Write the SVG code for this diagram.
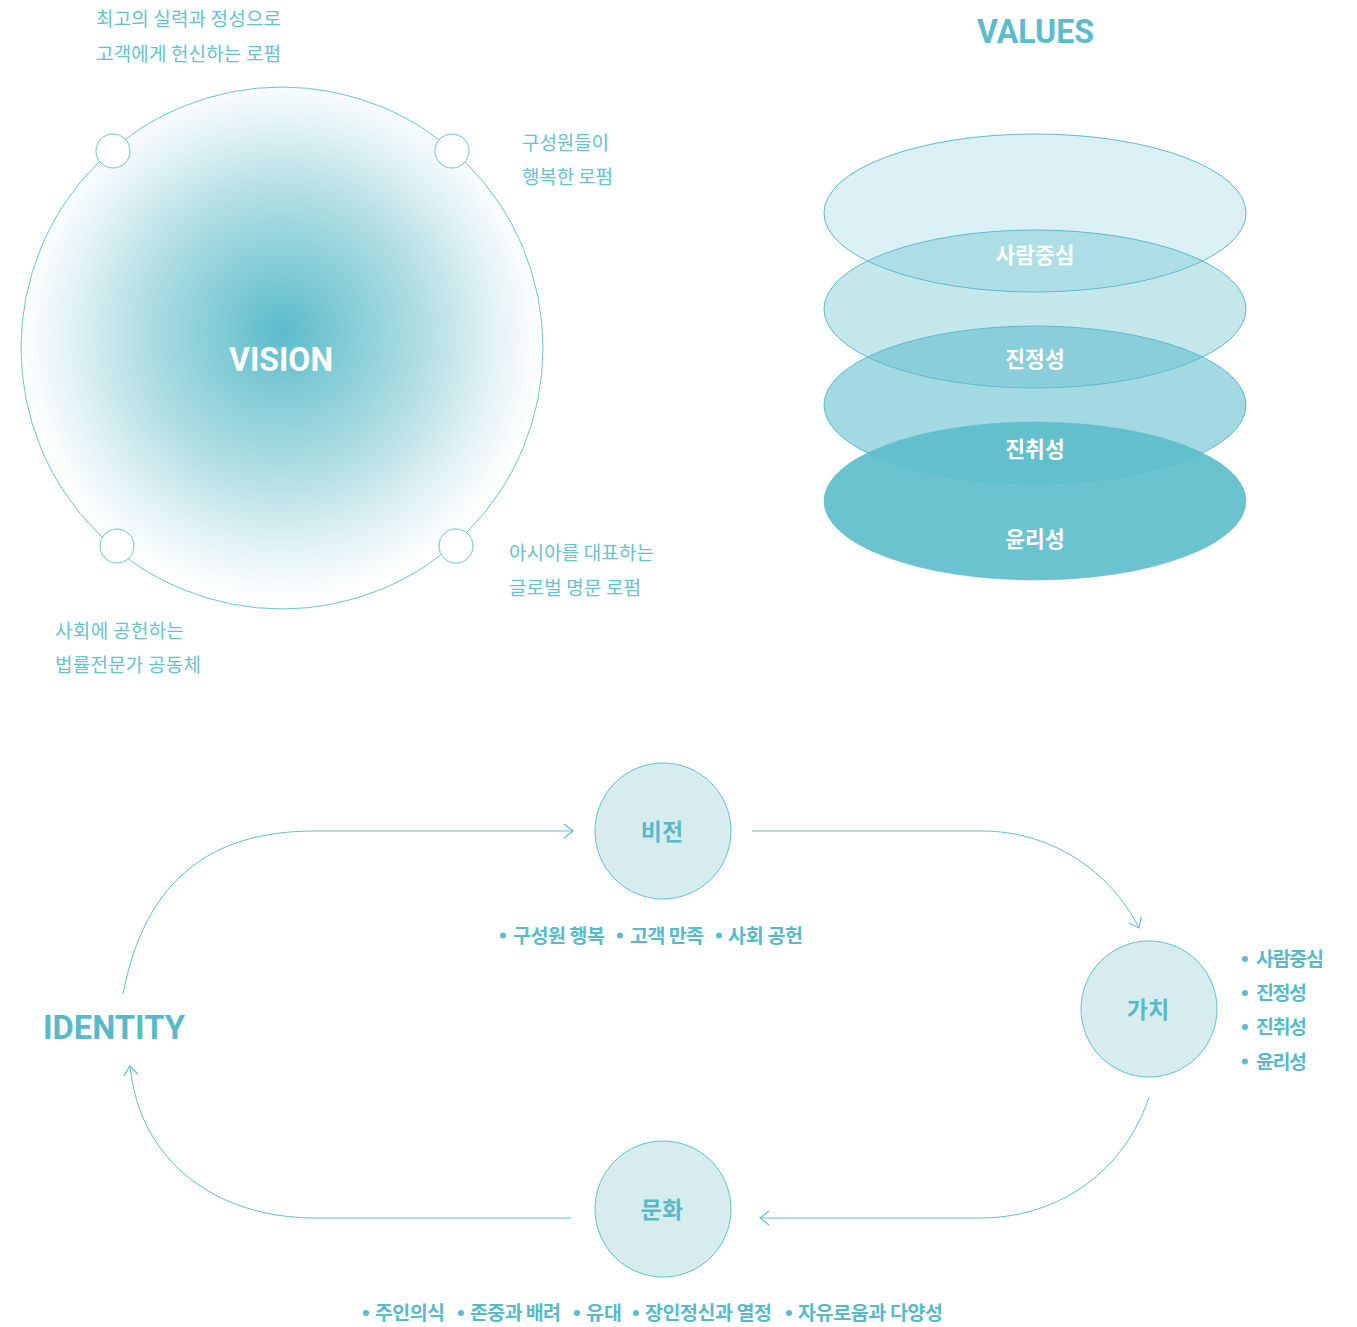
<svg xmlns="http://www.w3.org/2000/svg" width="1357" height="1327" viewBox="0 0 1357 1327">
<defs>
<radialGradient id="vg" gradientUnits="userSpaceOnUse" cx="282" cy="338" r="262" fx="282" fy="330">
<stop offset="0" stop-color="#5bbccb"/>
<stop offset="0.3" stop-color="#8bcfd8"/>
<stop offset="0.58" stop-color="#b9e1e7"/>
<stop offset="0.82" stop-color="#e4f3f5"/>
<stop offset="1" stop-color="#ffffff"/>
</radialGradient>
<marker id="chev" markerUnits="userSpaceOnUse" viewBox="-12 -10 14 20" refX="0" refY="0" markerWidth="14" markerHeight="20" orient="auto">
<path d="M-9,-7 L0,0 L-9,7" fill="none" stroke="#5fc0cd" stroke-width="1.2"/>
</marker>
<style>
.lbl{font-family:'Noto Sans CJK KR','Noto Sans',sans-serif;font-size:19px;fill:#66c2ce;font-weight:400}
.bul{font-family:'Noto Sans CJK KR','Noto Sans',sans-serif;font-size:19.5px;fill:#58bac9;font-weight:700}
.bd{fill:#5bbccb}
.node{fill:#d7ecef;stroke:#5fc0cd;stroke-width:1}
.ntx{font-family:'Noto Sans CJK KR','Noto Sans',sans-serif;font-size:23px;fill:#58bac9;font-weight:700;text-anchor:middle}
.ell{stroke:#5bbccb;stroke-width:1}
.etx{font-family:'Noto Sans CJK KR','Noto Sans',sans-serif;font-size:21.5px;fill:#ffffff;font-weight:700;text-anchor:middle}
.con{fill:none;stroke:#5fc0cd;stroke-width:1}
.dot{fill:#ffffff;stroke:#6cc4d0;stroke-width:1}
</style>
</defs>
<rect width="1357" height="1327" fill="#ffffff"/>

<g id="vision">
<circle cx="282" cy="348" r="261" fill="url(#vg)" stroke="#6cc4d0" stroke-width="1"/>
<circle class="dot" cx="113" cy="151" r="17"/>
<circle class="dot" cx="452" cy="151" r="17"/>
<circle class="dot" cx="117" cy="546" r="17"/>
<circle class="dot" cx="456" cy="546" r="17"/>
<text x="229" y="371" font-family="Roboto,'Liberation Sans',sans-serif" font-weight="700" font-size="34" fill="#ffffff" textLength="104" lengthAdjust="spacingAndGlyphs">VISION</text>
<text class="lbl" x="96" y="26" textLength="185">최고의 실력과 정성으로</text>
<text class="lbl" x="96" y="61" textLength="185">고객에게 헌신하는 로펌</text>
<text class="lbl" x="522" y="150" textLength="87">구성원들이</text>
<text class="lbl" x="522" y="184" textLength="91">행복한 로펌</text>
<text class="lbl" x="509" y="560" textLength="145">아시아를 대표하는</text>
<text class="lbl" x="509" y="595" textLength="132">글로벌 명문 로펌</text>
<text class="lbl" x="55" y="638" textLength="129">사회에 공헌하는</text>
<text class="lbl" x="55" y="672" textLength="146">법률전문가 공동체</text>
</g>

<g id="values">
<text x="977" y="43" font-family="Roboto,'Liberation Sans',sans-serif" font-weight="700" font-size="33" fill="#5bbccb" textLength="117" lengthAdjust="spacingAndGlyphs">VALUES</text>
<ellipse class="ell" cx="1035" cy="213" rx="211" ry="79" fill="#5bbccb" fill-opacity="0.22"/>
<ellipse class="ell" cx="1035" cy="309" rx="211" ry="79" fill="#5bbccb" fill-opacity="0.36"/>
<ellipse class="ell" cx="1035" cy="405" rx="211" ry="79" fill="#5bbccb" fill-opacity="0.56"/>
<ellipse class="ell" cx="1035" cy="501" rx="211" ry="79" fill="#5bbccb" fill-opacity="0.9" stroke-opacity="0.5"/>
<text class="etx" x="1035" y="263">사람중심</text>
<text class="etx" x="1035" y="367">진정성</text>
<text class="etx" x="1035" y="457">진취성</text>
<text class="etx" x="1035" y="547">윤리성</text>
</g>

<g id="connectors">
<path class="con" d="M123,994 C145,880 210,831 315,831 L573,831" marker-end="url(#chev)"/>
<path class="con" d="M752,831 L982,831 C1050,831 1110,870 1139,928" marker-end="url(#chev)"/>
<path class="con" d="M1149,1097 C1125,1170 1060,1218 980,1218 L760,1218" marker-end="url(#chev)"/>
<path class="con" d="M571,1218 L315,1218 C220,1218 140,1165 130,1066" marker-end="url(#chev)"/>
</g>

<g id="identity">
<text x="43" y="1039" font-family="Roboto,'Liberation Sans',sans-serif" font-weight="700" font-size="34" fill="#58bac9" textLength="142" lengthAdjust="spacingAndGlyphs">IDENTITY</text>
</g>

<g id="node-vision">
<circle class="node" cx="663" cy="831" r="68"/>
<text class="ntx" x="662" y="840">비전</text>
<circle class="bd" cx="503" cy="935.5" r="3"/>
<text class="bul" x="513" y="942.5" textLength="92">구성원 행복</text>
<circle class="bd" cx="620" cy="935.5" r="3"/>
<text class="bul" x="630" y="942.5" textLength="74">고객 만족</text>
<circle class="bd" cx="719" cy="935.5" r="3"/>
<text class="bul" x="728" y="942.5" textLength="75">사회 공헌</text>
</g>

<g id="node-value">
<circle class="node" cx="1149" cy="1009" r="68"/>
<text class="ntx" x="1148" y="1018">가치</text>
<circle class="bd" cx="1245" cy="959" r="3"/>
<text class="bul" x="1256" y="966" textLength="68">사람중심</text>
<circle class="bd" cx="1245" cy="993" r="3"/>
<text class="bul" x="1256" y="1000" textLength="51">진정성</text>
<circle class="bd" cx="1245" cy="1027" r="3"/>
<text class="bul" x="1256" y="1034" textLength="51">진취성</text>
<circle class="bd" cx="1245" cy="1061.5" r="3"/>
<text class="bul" x="1256" y="1068.5" textLength="51">윤리성</text>
</g>

<g id="node-culture">
<circle class="node" cx="663" cy="1209" r="68"/>
<text class="ntx" x="662" y="1218">문화</text>
<circle class="bd" cx="366" cy="1313" r="3"/>
<text class="bul" x="375" y="1320" textLength="70">주인의식</text>
<circle class="bd" cx="461" cy="1313" r="3"/>
<text class="bul" x="470" y="1320" textLength="91">존중과 배려</text>
<circle class="bd" cx="577" cy="1313" r="3"/>
<text class="bul" x="586" y="1320">유대</text>
<circle class="bd" cx="636" cy="1313" r="3"/>
<text class="bul" x="645" y="1320" textLength="127">장인정신과 열정</text>
<circle class="bd" cx="789" cy="1313" r="3"/>
<text class="bul" x="798" y="1320" textLength="145">자유로움과 다양성</text>
</g>
</svg>
